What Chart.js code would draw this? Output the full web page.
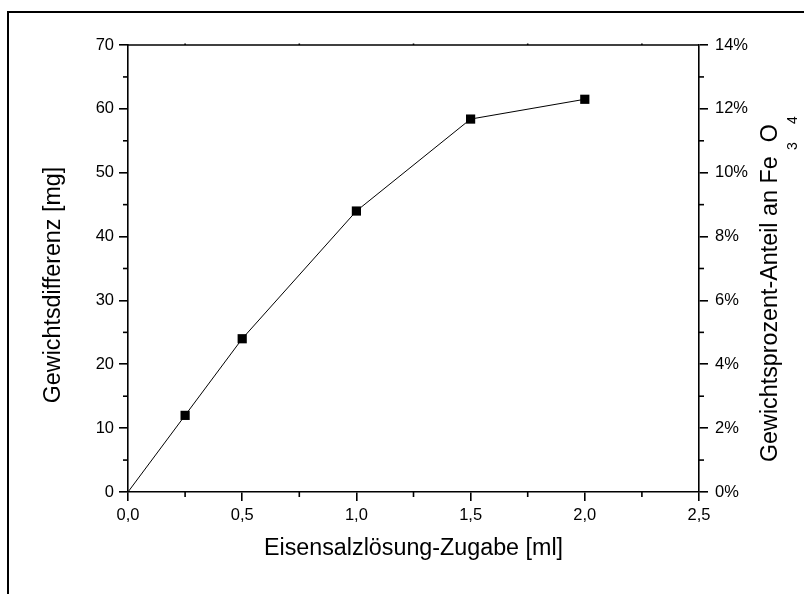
<!DOCTYPE html>
<html>
<head>
<meta charset="utf-8">
<script src="https://cdn.jsdelivr.net/npm/chart.js@4.4.1/dist/chart.umd.min.js"></script>
<style>
  html, body { margin: 0; padding: 0; background: #fff; }
  #c { display: block; }
</style>
</head>
<body>
<canvas id="c" width="804" height="594"></canvas>
<script>
// ---- data ----
const additionMl = [0, 0.25, 0.5, 1.0, 1.5, 2.0];
const weightDiffMg = [0, 12, 24, 44, 58.4, 61.5];
const markerShown = [false, true, true, true, true, true];
const xTickValues = [0, 0.5, 1.0, 1.5, 2.0, 2.5];
const yTickValues = [0, 10, 20, 30, 40, 50, 60, 70];
const y2TickValues = [0, 2, 4, 6, 8, 10, 12, 14];
const xTitle = 'Eisensalzlösung-Zugabe [ml]';
const yTitle = 'Gewichtsdifferenz [mg]';
const y2TitleMain = 'Gewichtsprozent-Anteil an Fe ';

const FONT = "'Liberation Sans', Arial, sans-serif";
const AX = '#000';
const AXW = 1.6;
const TITLE_PX = 23.3;

const points = additionMl.map((x, i) => ({ x: x, y: weightDiffMg[i] }));

const extras = {
  id: 'extras',
  afterDraw(chart) {
    const ctx = chart.ctx;
    const a = chart.chartArea;
    const sx = chart.scales.x, sy = chart.scales.y, sy2 = chart.scales.y2;
    ctx.save();
    ctx.strokeStyle = AX;
    ctx.lineWidth = AXW;
    // top frame line of plot
    ctx.beginPath();
    ctx.moveTo(a.left, a.top);
    ctx.lineTo(a.right, a.top);
    ctx.stroke();
    // minor ticks x (bottom, outward) and tiny ticks on top
    for (let i = 0; i < xTickValues.length - 1; i++) {
      const v = (xTickValues[i] + xTickValues[i + 1]) / 2;
      const px = sx.getPixelForValue(v);
      ctx.beginPath();
      ctx.moveTo(px, a.bottom);
      ctx.lineTo(px, a.bottom + 5);
      ctx.stroke();
      ctx.beginPath();
      ctx.moveTo(px, a.top);
      ctx.lineTo(px, a.top - 1.5);
      ctx.stroke();
    }
    // minor ticks left y
    for (let i = 0; i < yTickValues.length - 1; i++) {
      const v = (yTickValues[i] + yTickValues[i + 1]) / 2;
      const py = sy.getPixelForValue(v);
      ctx.beginPath();
      ctx.moveTo(a.left, py);
      ctx.lineTo(a.left - 5, py);
      ctx.stroke();
    }
    // minor ticks right y
    for (let i = 0; i < y2TickValues.length - 1; i++) {
      const v = (y2TickValues[i] + y2TickValues[i + 1]) / 2;
      const py = sy2.getPixelForValue(v);
      ctx.beginPath();
      ctx.moveTo(a.right, py);
      ctx.lineTo(a.right + 5, py);
      ctx.stroke();
    }
    // outer frame (top + left)
    ctx.lineWidth = 2;
    ctx.beginPath();
    ctx.moveTo(804, 12);
    ctx.lineTo(8, 12);
    ctx.lineTo(8, 594);
    ctx.stroke();

    const big = TITLE_PX + 'px ' + FONT, small = '14px ' + FONT;
    ctx.fillStyle = '#000';

    // left axis title
    ctx.save();
    ctx.translate(60, 285);
    ctx.rotate(-Math.PI / 2);
    ctx.font = big;
    ctx.textAlign = 'center';
    ctx.textBaseline = 'alphabetic';
    ctx.fillText(yTitle, 0, 0);
    ctx.restore();

    // right axis title with subscripts
    ctx.translate(777, 462);
    ctx.rotate(-Math.PI / 2);
    ctx.textBaseline = 'alphabetic';
    ctx.textAlign = 'left';
    let u = 0;
    ctx.font = big;
    ctx.fillText(y2TitleMain, u, 0);
    u += ctx.measureText(y2TitleMain).width;
    ctx.font = small;
    ctx.fillText('3', u, 20);
    u += ctx.measureText('3').width;
    ctx.font = big;
    ctx.fillText('O', u, 0);
    u += ctx.measureText('O').width;
    ctx.font = small;
    ctx.fillText('4', u, 20);
    ctx.restore();
  }
};

const tickFont = { family: FONT, size: 16.5 };
const titleFont = { family: FONT, size: TITLE_PX };

new Chart(document.getElementById('c'), {
  type: 'line',
  data: {
    datasets: [{
      data: points,
      borderColor: '#000',
      borderWidth: 1,
      backgroundColor: '#000',
      pointBackgroundColor: '#000',
      pointBorderWidth: 0,
      pointStyle: 'rect',
      pointRadius: markerShown.map(s => s ? 6.5 : 0),
      pointHoverRadius: markerShown.map(s => s ? 6.5 : 0),
      tension: 0,
      clip: false,
      yAxisID: 'y'
    }]
  },
  options: {
    responsive: false,
    animation: false,
    events: [],
    layout: { padding: { top: 45, left: 0, right: 0, bottom: 0 } },
    plugins: { legend: { display: false }, tooltip: { enabled: false } },
    scales: {
      x: {
        type: 'linear',
        position: 'bottom',
        min: 0, max: 2.5,
        afterBuildTicks: s => { s.ticks = xTickValues.map(v => ({ value: v })); },
        afterFit: s => { s.height = 102; },
        ticks: {
          font: tickFont, color: '#000', padding: 5, maxRotation: 0, autoSkip: false,
          callback: v => Number(v).toFixed(1).replace('.', ',')
        },
        grid: { drawOnChartArea: false, drawTicks: true, tickLength: 9, color: AX, lineWidth: AXW },
        border: { display: true, color: AX, width: AXW },
        title: { display: true, text: xTitle, font: titleFont, color: '#000', padding: { top: 0, bottom: 31 } }
      },
      y: {
        type: 'linear',
        position: 'left',
        min: 0, max: 70,
        afterBuildTicks: s => { s.ticks = yTickValues.map(v => ({ value: v })); },
        afterFit: s => { s.width = 128; },
        ticks: { font: tickFont, color: '#000', padding: 5, autoSkip: false },
        grid: { drawOnChartArea: false, drawTicks: true, tickLength: 9, color: AX, lineWidth: AXW },
        border: { display: true, color: AX, width: AXW }
      },
      y2: {
        type: 'linear',
        position: 'right',
        min: 0, max: 14,
        afterBuildTicks: s => { s.ticks = y2TickValues.map(v => ({ value: v })); },
        afterFit: s => { s.width = 105; },
        ticks: { font: tickFont, color: '#000', padding: 7, autoSkip: false, callback: v => v + '%' },
        grid: { drawOnChartArea: false, drawTicks: true, tickLength: 9, color: AX, lineWidth: AXW },
        border: { display: true, color: AX, width: AXW }
      }
    }
  },
  plugins: [extras]
});
</script>
</body>
</html>
